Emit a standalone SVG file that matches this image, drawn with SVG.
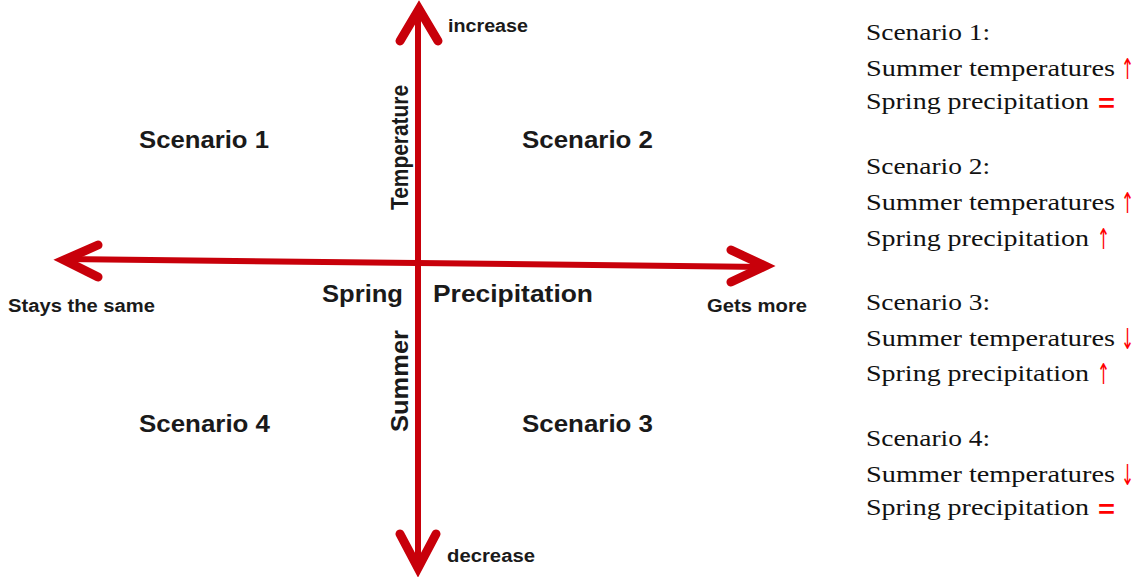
<svg xmlns="http://www.w3.org/2000/svg" width="1141" height="577" viewBox="0 0 1141 577">
<style>
.ax{stroke:#c8000a;stroke-width:6;fill:none;stroke-linecap:round;stroke-linejoin:round}
.hd{stroke:#c8000a;stroke-width:9;fill:none;stroke-linecap:round;stroke-linejoin:miter}
.lb{font-family:"Liberation Sans",Arial,sans-serif;font-weight:bold;fill:#1a1a1a}
.sm{font-size:18px}
.sc{font-size:24px}
.rt{font-family:"Liberation Serif","Times New Roman",serif;font-size:24px;fill:#111}
.ar{font-family:"DejaVu Sans",sans-serif;font-size:24px;fill:#ff0000}
.eq{font-family:"Liberation Sans",Arial,sans-serif;font-size:26px;font-weight:bold;fill:#ff0000}
</style>
<rect width="1141" height="577" fill="#fff"/>
<g id="connectors">
<line class="ax" x1="65" y1="259" x2="764" y2="267"/>
<line class="ax" x1="418" y1="10" x2="418" y2="567"/>
<polyline class="hd" points="98,245 64,260 98,277"/>
<polyline class="hd" points="731,250 765,266 731,282"/>
<polyline class="hd" points="400,41 419,9 438,41"/>
<polyline class="hd" points="400,534 418,568 436,534"/>
</g>
<g id="axis-labels">
<text class="lb sm" x="448" y="32" textLength="80" lengthAdjust="spacingAndGlyphs">increase</text>
<text class="lb sm" x="447" y="562" textLength="88" lengthAdjust="spacingAndGlyphs">decrease</text>
<text class="lb sm" x="8" y="312" textLength="147" lengthAdjust="spacingAndGlyphs">Stays the same</text>
<text class="lb sm" x="707" y="312" textLength="100" lengthAdjust="spacingAndGlyphs">Gets more</text>
<text class="lb sc" x="322" y="302" textLength="81" lengthAdjust="spacingAndGlyphs">Spring</text>
<text class="lb sc" x="433" y="302" textLength="160" lengthAdjust="spacingAndGlyphs">Precipitation</text>
<text class="lb sc" transform="translate(408,210) rotate(-90)" textLength="125" lengthAdjust="spacingAndGlyphs">Temperature</text>
<text class="lb sc" transform="translate(408,432) rotate(-90)" textLength="102" lengthAdjust="spacingAndGlyphs">Summer</text>
</g>
<g id="scenario1"><text class="lb sc" x="139" y="148" textLength="130" lengthAdjust="spacingAndGlyphs">Scenario 1</text></g>
<g id="scenario2"><text class="lb sc" x="522" y="148" textLength="131" lengthAdjust="spacingAndGlyphs">Scenario 2</text></g>
<g id="scenario4"><text class="lb sc" x="139" y="432" textLength="131" lengthAdjust="spacingAndGlyphs">Scenario 4</text></g>
<g id="scenario3"><text class="lb sc" x="522" y="432" textLength="131" lengthAdjust="spacingAndGlyphs">Scenario 3</text></g>
<g id="legend">
<text class="rt" x="866" y="40" textLength="124" lengthAdjust="spacingAndGlyphs">Scenario 1:</text>
<text class="rt" x="866" y="76" textLength="249" lengthAdjust="spacingAndGlyphs">Summer temperatures</text>
<text class="ar" transform="translate(1121,79) scale(0.65,1.2)">↑</text>
<text class="rt" x="866" y="109" textLength="223" lengthAdjust="spacingAndGlyphs">Spring precipitation</text>
<text class="eq" x="1098" y="112" textLength="17" lengthAdjust="spacingAndGlyphs">=</text>
<text class="rt" x="866" y="174" textLength="124" lengthAdjust="spacingAndGlyphs">Scenario 2:</text>
<text class="rt" x="866" y="210" textLength="249" lengthAdjust="spacingAndGlyphs">Summer temperatures</text>
<text class="ar" transform="translate(1121,213) scale(0.65,1.2)">↑</text>
<text class="rt" x="866" y="246" textLength="223" lengthAdjust="spacingAndGlyphs">Spring precipitation</text>
<text class="ar" transform="translate(1097,249) scale(0.65,1.2)">↑</text>
<text class="rt" x="866" y="310" textLength="124" lengthAdjust="spacingAndGlyphs">Scenario 3:</text>
<text class="rt" x="866" y="346" textLength="249" lengthAdjust="spacingAndGlyphs">Summer temperatures</text>
<text class="ar" transform="translate(1121,349) scale(0.65,1.2)">↓</text>
<text class="rt" x="866" y="381" textLength="223" lengthAdjust="spacingAndGlyphs">Spring precipitation</text>
<text class="ar" transform="translate(1097,384) scale(0.65,1.2)">↑</text>
<text class="rt" x="866" y="446" textLength="124" lengthAdjust="spacingAndGlyphs">Scenario 4:</text>
<text class="rt" x="866" y="482" textLength="249" lengthAdjust="spacingAndGlyphs">Summer temperatures</text>
<text class="ar" transform="translate(1121,485) scale(0.65,1.2)">↓</text>
<text class="rt" x="866" y="515" textLength="223" lengthAdjust="spacingAndGlyphs">Spring precipitation</text>
<text class="eq" x="1098" y="518" textLength="17" lengthAdjust="spacingAndGlyphs">=</text>
</g>
</svg>
